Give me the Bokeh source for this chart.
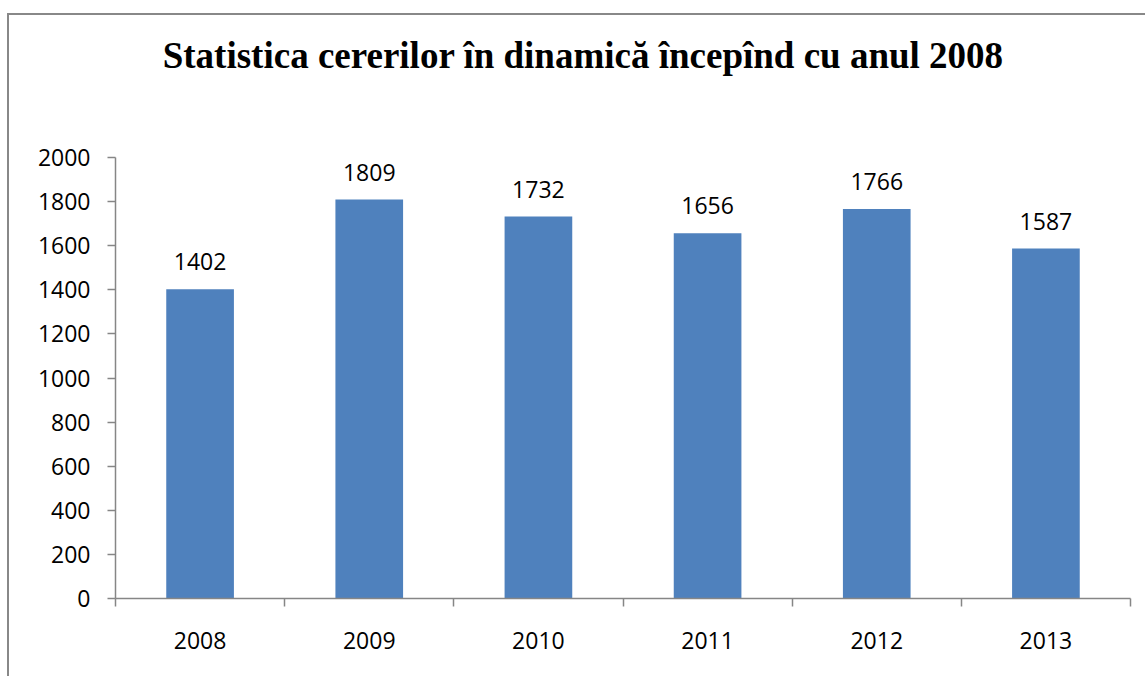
from bokeh.plotting import figure
from bokeh.models import (Range1d, LinearAxis, FixedTicker,
                          ColumnDataSource, LabelSet, Label)
from bokeh.core.properties import value
from bokeh.embed import file_html
from bokeh.resources import INLINE

years = ["2008", "2009", "2010", "2011", "2012", "2013"]
requests = [1402, 1809, 1732, 1656, 1766, 1587]
y_ticks = [0, 200, 400, 600, 800, 1000, 1200, 1400, 1600, 1800, 2000]
title_text = "Statistica cererilor în dinamică începînd cu anul 2008"

GRAY = "#868686"
FONT = "Open Sans"

n = len(years)
centers = [i + 0.5 for i in range(n)]
src = ColumnDataSource(dict(x=centers, top=requests, lbl=[str(v) for v in requests]))

# frame extends up to the chart's top edge so the title sits inside it
Y_MAX = 2000
Y_TOP = Y_MAX * 583 / 441

p = figure(x_range=Range1d(0, n), y_range=Range1d(0, Y_TOP),
           x_axis_type=None, y_axis_type=None, title=None,
           frame_width=1015, frame_height=583,
           min_border_left=106, min_border_right=15, min_border_top=0, min_border_bottom=78,
           output_backend="svg", toolbar_location=None)
p.margin = (13, 0, 0, 7)
p.styles = {"border-left": "2px solid #888888", "border-top": "2px solid #888888"}
p.outline_line_color = None
p.background_fill_color = "white"
p.border_fill_color = "white"

# y axis
yax = LinearAxis(ticker=FixedTicker(ticks=y_ticks), bounds=(0, Y_MAX))
yax.axis_line_color = GRAY
yax.axis_line_width = 1.5
yax.major_tick_line_color = GRAY
yax.major_tick_line_width = 1.5
yax.major_tick_in = 0
yax.major_tick_out = 8
yax.minor_tick_line_color = None
yax.major_label_text_font = FONT
yax.major_label_text_font_size = "23px"
yax.major_label_text_color = "black"
yax.major_label_standoff = 17
p.add_layout(yax, "left")

# x axis: boundary ticks (no labels)
tax = LinearAxis(ticker=FixedTicker(ticks=list(range(n + 1))))
tax.axis_line_color = GRAY
tax.axis_line_width = 1.5
tax.major_tick_line_color = GRAY
tax.major_tick_line_width = 1.5
tax.major_tick_in = 0
tax.major_tick_out = 8
tax.minor_tick_line_color = None
tax.major_label_text_font_size = "0px"
tax.major_label_standoff = 0
p.add_layout(tax, "below")

# x axis: category labels at bar centres
cax = LinearAxis(ticker=FixedTicker(ticks=centers),
                 major_label_overrides={c: y for c, y in zip(centers, years)})
cax.axis_line_color = None
cax.major_tick_line_color = None
cax.minor_tick_line_color = None
cax.major_label_text_font = FONT
cax.major_label_text_font_size = "23px"
cax.major_label_text_color = "black"
cax.major_label_standoff = 19
p.add_layout(cax, "below")

# grid
p.ygrid.ticker = FixedTicker(ticks=y_ticks)
p.ygrid.grid_line_color = GRAY
p.ygrid.grid_line_width = 1.5
p.xgrid.grid_line_color = None

p.vbar(x="x", top="top", width=0.4, source=src, fill_color="#4F81BD", line_color=None)

labels = LabelSet(x="x", y="top", text="lbl", source=src, text_align="center",
                  text_baseline="alphabetic", y_offset=19,
                  text_font=value(FONT), text_font_size="23px", text_color="black")
p.add_layout(labels)

title = Label(x=2.765, y=2462, text=title_text,
              text_align="center", text_baseline="alphabetic",
              text_font="Liberation Serif", text_font_style="bold",
              text_font_size="37px", text_color="black")
p.add_layout(title)

open("out.html", "w").write(file_html(p, INLINE))
